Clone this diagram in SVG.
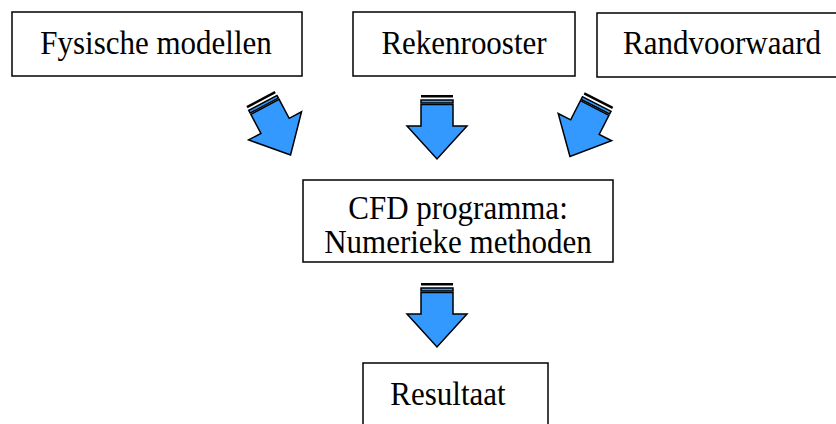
<svg xmlns="http://www.w3.org/2000/svg" width="836" height="424" viewBox="0 0 836 424">
<style>
.box{fill:#fff;stroke:#000;stroke-width:1.5}
.t{font-family:"Liberation Serif","Times New Roman",serif;font-size:31px;fill:#000;text-anchor:middle}
.bl{fill:#3399ff;stroke:#000;stroke-width:1.5;stroke-linejoin:miter}
</style>
<defs>
<g id="arrow">
<rect x="-16" y="0" width="32" height="2.5" fill="#000"/>
<rect x="-16" y="5" width="32" height="3" class="bl" stroke-width="1"/>
<polygon class="bl" points="-16,9.5 16,9.5 16,31 30,31 0,64 -30,31 -16,31"/>
</g>
</defs>
<rect width="836" height="424" fill="#fff"/>
<g id="connectors">
<use href="#arrow" transform="translate(260.5,98.5) rotate(-28)"/>
<use href="#arrow" transform="translate(437,95)"/>
<use href="#arrow" transform="translate(599,99.5) rotate(27)"/>
<use href="#arrow" transform="translate(437,283)"/>
</g>
<g id="fysische">
<rect class="box" x="12" y="12" width="290" height="64"/>
<text class="t" transform="translate(156,54) scale(1,1.08)">Fysische modellen</text>
</g>
<g id="rekenrooster">
<rect class="box" x="353" y="12" width="222" height="64"/>
<text class="t" transform="translate(464,54) scale(1,1.08)">Rekenrooster</text>
</g>
<g id="randvoorwaard">
<rect class="box" x="597" y="13" width="245" height="64"/>
<text class="t" transform="translate(722,54) scale(1,1.08)">Randvoorwaard</text>
</g>
<g id="cfd">
<rect class="box" x="303" y="180" width="310" height="82"/>
<text class="t" transform="translate(458,219) scale(1,1.08)">CFD programma:</text>
<text class="t" transform="translate(458,253) scale(1,1.08)">Numerieke methoden</text>
</g>
<g id="resultaat">
<rect class="box" x="363" y="363" width="185" height="70"/>
<text class="t" transform="translate(448,405) scale(1,1.08)">Resultaat</text>
</g>
</svg>
